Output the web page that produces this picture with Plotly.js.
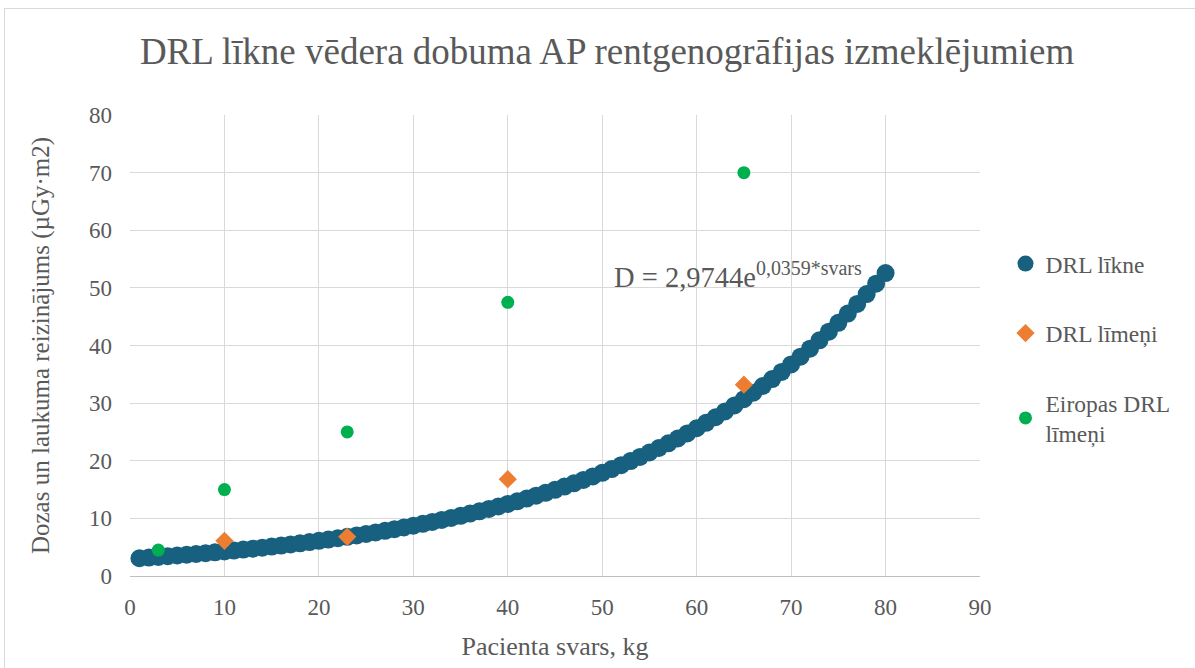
<!DOCTYPE html>
<html><head><meta charset="utf-8">
<script src="https://cdn.plot.ly/plotly-3.0.1.min.js"></script>
<style>html,body{margin:0;padding:0;background:#fff;overflow:hidden}
#frame{position:absolute;left:4px;top:8px;width:1200px;height:700px;border:1px solid #d9d9d9;pointer-events:none;z-index:5}
#chart{position:absolute;left:0;top:0;width:1195px;height:668px}</style>
</head><body>
<div id="chart"></div><div id="frame"></div>
<script>
const curveX = [1,2,3,4,5,6,7,8,9,10,11,12,13,14,15,16,17,18,19,20,21,22,23,24,25,26,27,28,29,30,31,32,33,34,35,36,37,38,39,40,41,42,43,44,45,46,47,48,49,50,51,52,53,54,55,56,57,58,59,60,61,62,63,64,65,66,67,68,69,70,71,72,73,74,75,76,77,78,79,80];
const curveY = [3.08,3.20,3.31,3.43,3.56,3.69,3.82,3.96,4.11,4.26,4.41,4.58,4.74,4.92,5.10,5.28,5.48,5.68,5.88,6.10,6.32,6.55,6.79,7.04,7.30,7.56,7.84,8.13,8.43,8.73,9.05,9.38,9.73,10.08,10.45,10.83,11.23,11.64,12.06,12.51,12.96,13.44,13.93,14.44,14.96,15.51,16.08,16.67,17.28,17.91,18.56,19.24,19.94,20.67,21.43,22.21,23.02,23.86,24.74,25.64,26.58,27.55,28.56,29.60,30.68,31.80,32.97,34.17,35.42,36.72,38.06,39.45,40.89,42.39,43.94,45.54,47.21,48.93,50.72,52.57];
const drlX = [10,23,40,65];
const drlY = [6.1,6.8,16.8,33.2];
const euX = [3,10,23,40,65];
const euY = [4.5,15,25,47.5,70];
const xTicks = [0,10,20,30,40,50,60,70,80,90];
const yTicks = [0,10,20,30,40,50,60,70,80];

const txt = '#595959';
const font = '"Liberation Serif"';
const traces = [
  {x: curveX, y: curveY, type:'scatter', mode:'markers', name:'DRL līkne', legendgroup:'a',
   marker:{symbol:'circle', size:18, color:'#17607f'}},
  {x: drlX, y: drlY, type:'scatter', mode:'markers', name:'DRL līmeņi', legendgroup:'b',
   marker:{symbol:'diamond', size:14, color:'#ED7D31'}},
  {x: euX, y: euY, type:'scatter', mode:'markers', name:'Eiropas DRL<br>līmeņi', legendgroup:'c',
   marker:{symbol:'circle', size:13, color:'#00B050'}}
];
const layout = {
  width:1195, height:668,
  margin:{l:130, r:215, t:115, b:92},
  paper_bgcolor:'#fff', plot_bgcolor:'#fff',
  font:{family:font, color:txt, size:22},
  title:{text:'DRL līkne vēdera dobuma AP rentgenogrāfijas izmeklējumiem', font:{size:37, color:txt, family:font},
         x:0.508, xanchor:'center', y:0.923, yanchor:'middle'},
  xaxis:{range:[0,90], tickvals:xTicks, ticktext:xTicks.map(String), showgrid:true, gridcolor:'#d9d9d9', gridwidth:1,
         zeroline:false, showline:true, linecolor:'#bfbfbf', linewidth:1, ticks:'', ticklabelstandoff:10,
         tickfont:{size:23, color:txt, family:font},
         title:{text:'Pacienta svars, kg', font:{size:26, color:txt, family:font}, standoff:18}},
  yaxis:{range:[0,80], tickvals:yTicks, ticktext:yTicks.map(String), showgrid:true, gridcolor:'#d9d9d9', gridwidth:1,
         zeroline:false, showline:false, ticks:'', ticklabelstandoff:17,
         tickfont:{size:23, color:txt, family:font},
         title:{text:'Dozas un laukuma reizinājums (µGy·m2)', font:{size:25, color:txt, family:font}, standoff:32}},
  showlegend:true,
  legend:{x:1.03, xanchor:'left', y:0.725, yanchor:'top', traceorder:'grouped', tracegroupgap:36,
          font:{size:23.5, color:txt, family:font}, itemwidth:30, bgcolor:'rgba(0,0,0,0)'},
  annotations:[{x:51.0, y:52.3, xref:'x', yref:'y', xanchor:'left', yanchor:'middle', showarrow:false,
                text:'D = 2,9744e<sup>0,0359*svars</sup>', font:{size:28.5, color:txt, family:font}}]
};
Plotly.newPlot('chart', traces, layout, {displayModeBar:false, staticPlot:true});
</script>
</body></html>
